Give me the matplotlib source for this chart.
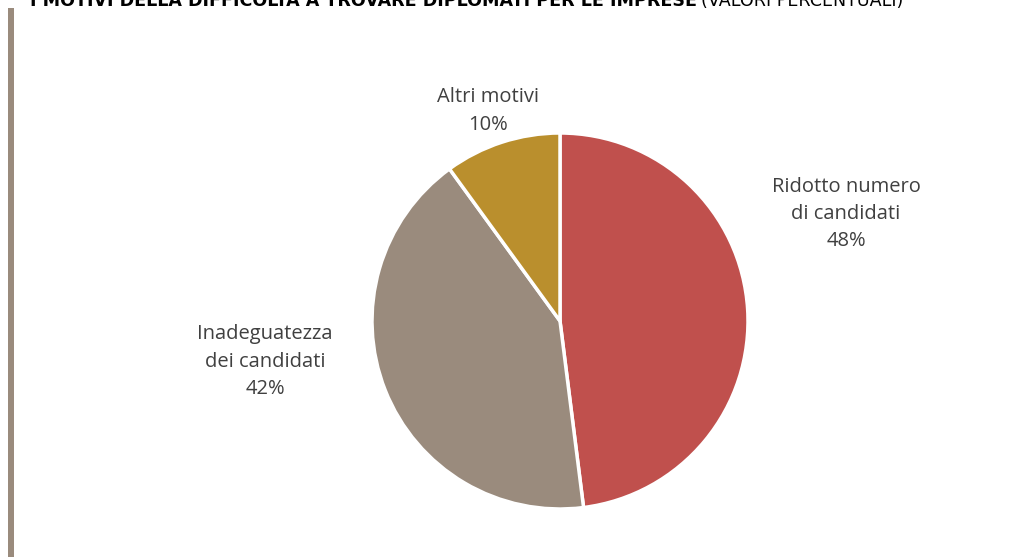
import matplotlib.pyplot as plt
from matplotlib.patches import Rectangle

# data
labels = ["Ridotto numero\ndi candidati", "Inadeguatezza\ndei candidati", "Altri motivi"]
values = [48, 42, 10]
colors = ["#C0504D", "#9A8B7D", "#BA8F2D"]

W, H = 1013, 557
fig = plt.figure(figsize=(W / 100, H / 100), dpi=100)
ax = fig.add_axes([0, 0, 1, 1])

ax.pie(values, colors=colors, startangle=90, counterclock=False,
       center=(560, H - 321), radius=188, frame=True,
       wedgeprops=dict(edgecolor="white", linewidth=2.5))
ax.set_xlim(0, W)
ax.set_ylim(0, H)
ax.set_aspect("equal")
ax.axis("off")

# labels
lab_pos = [(846, H - 214), (265, H - 362), (488, H - 111)]
for lab, v, (x, y) in zip(labels, values, lab_pos):
    ax.text(x, y, f"{lab}\n{v}%", ha="center", va="center", fontsize=14.5,
            color="#404040", family="Open Sans", linespacing=1.5)

# left accent bar
ax.add_patch(Rectangle((8, 0), 6, H - 8, color="#9A8B7D", lw=0))

# title (cut at top, as in the source)
t1 = fig.text(30 / W, 1 - 6 / H, "I MOTIVI DELLA DIFFICOLTÀ A TROVARE DIPLOMATI PER LE IMPRESE",
              fontsize=12.6, fontweight="bold", color="#000000", va="baseline")
fig.canvas.draw()
bb = t1.get_window_extent()
fig.text((bb.x1 + 4) / W, 1 - 6 / H, "(VALORI PERCENTUALI)", fontsize=12.6,
         color="#000000", va="baseline")

fig.savefig("out.png", dpi=100)
